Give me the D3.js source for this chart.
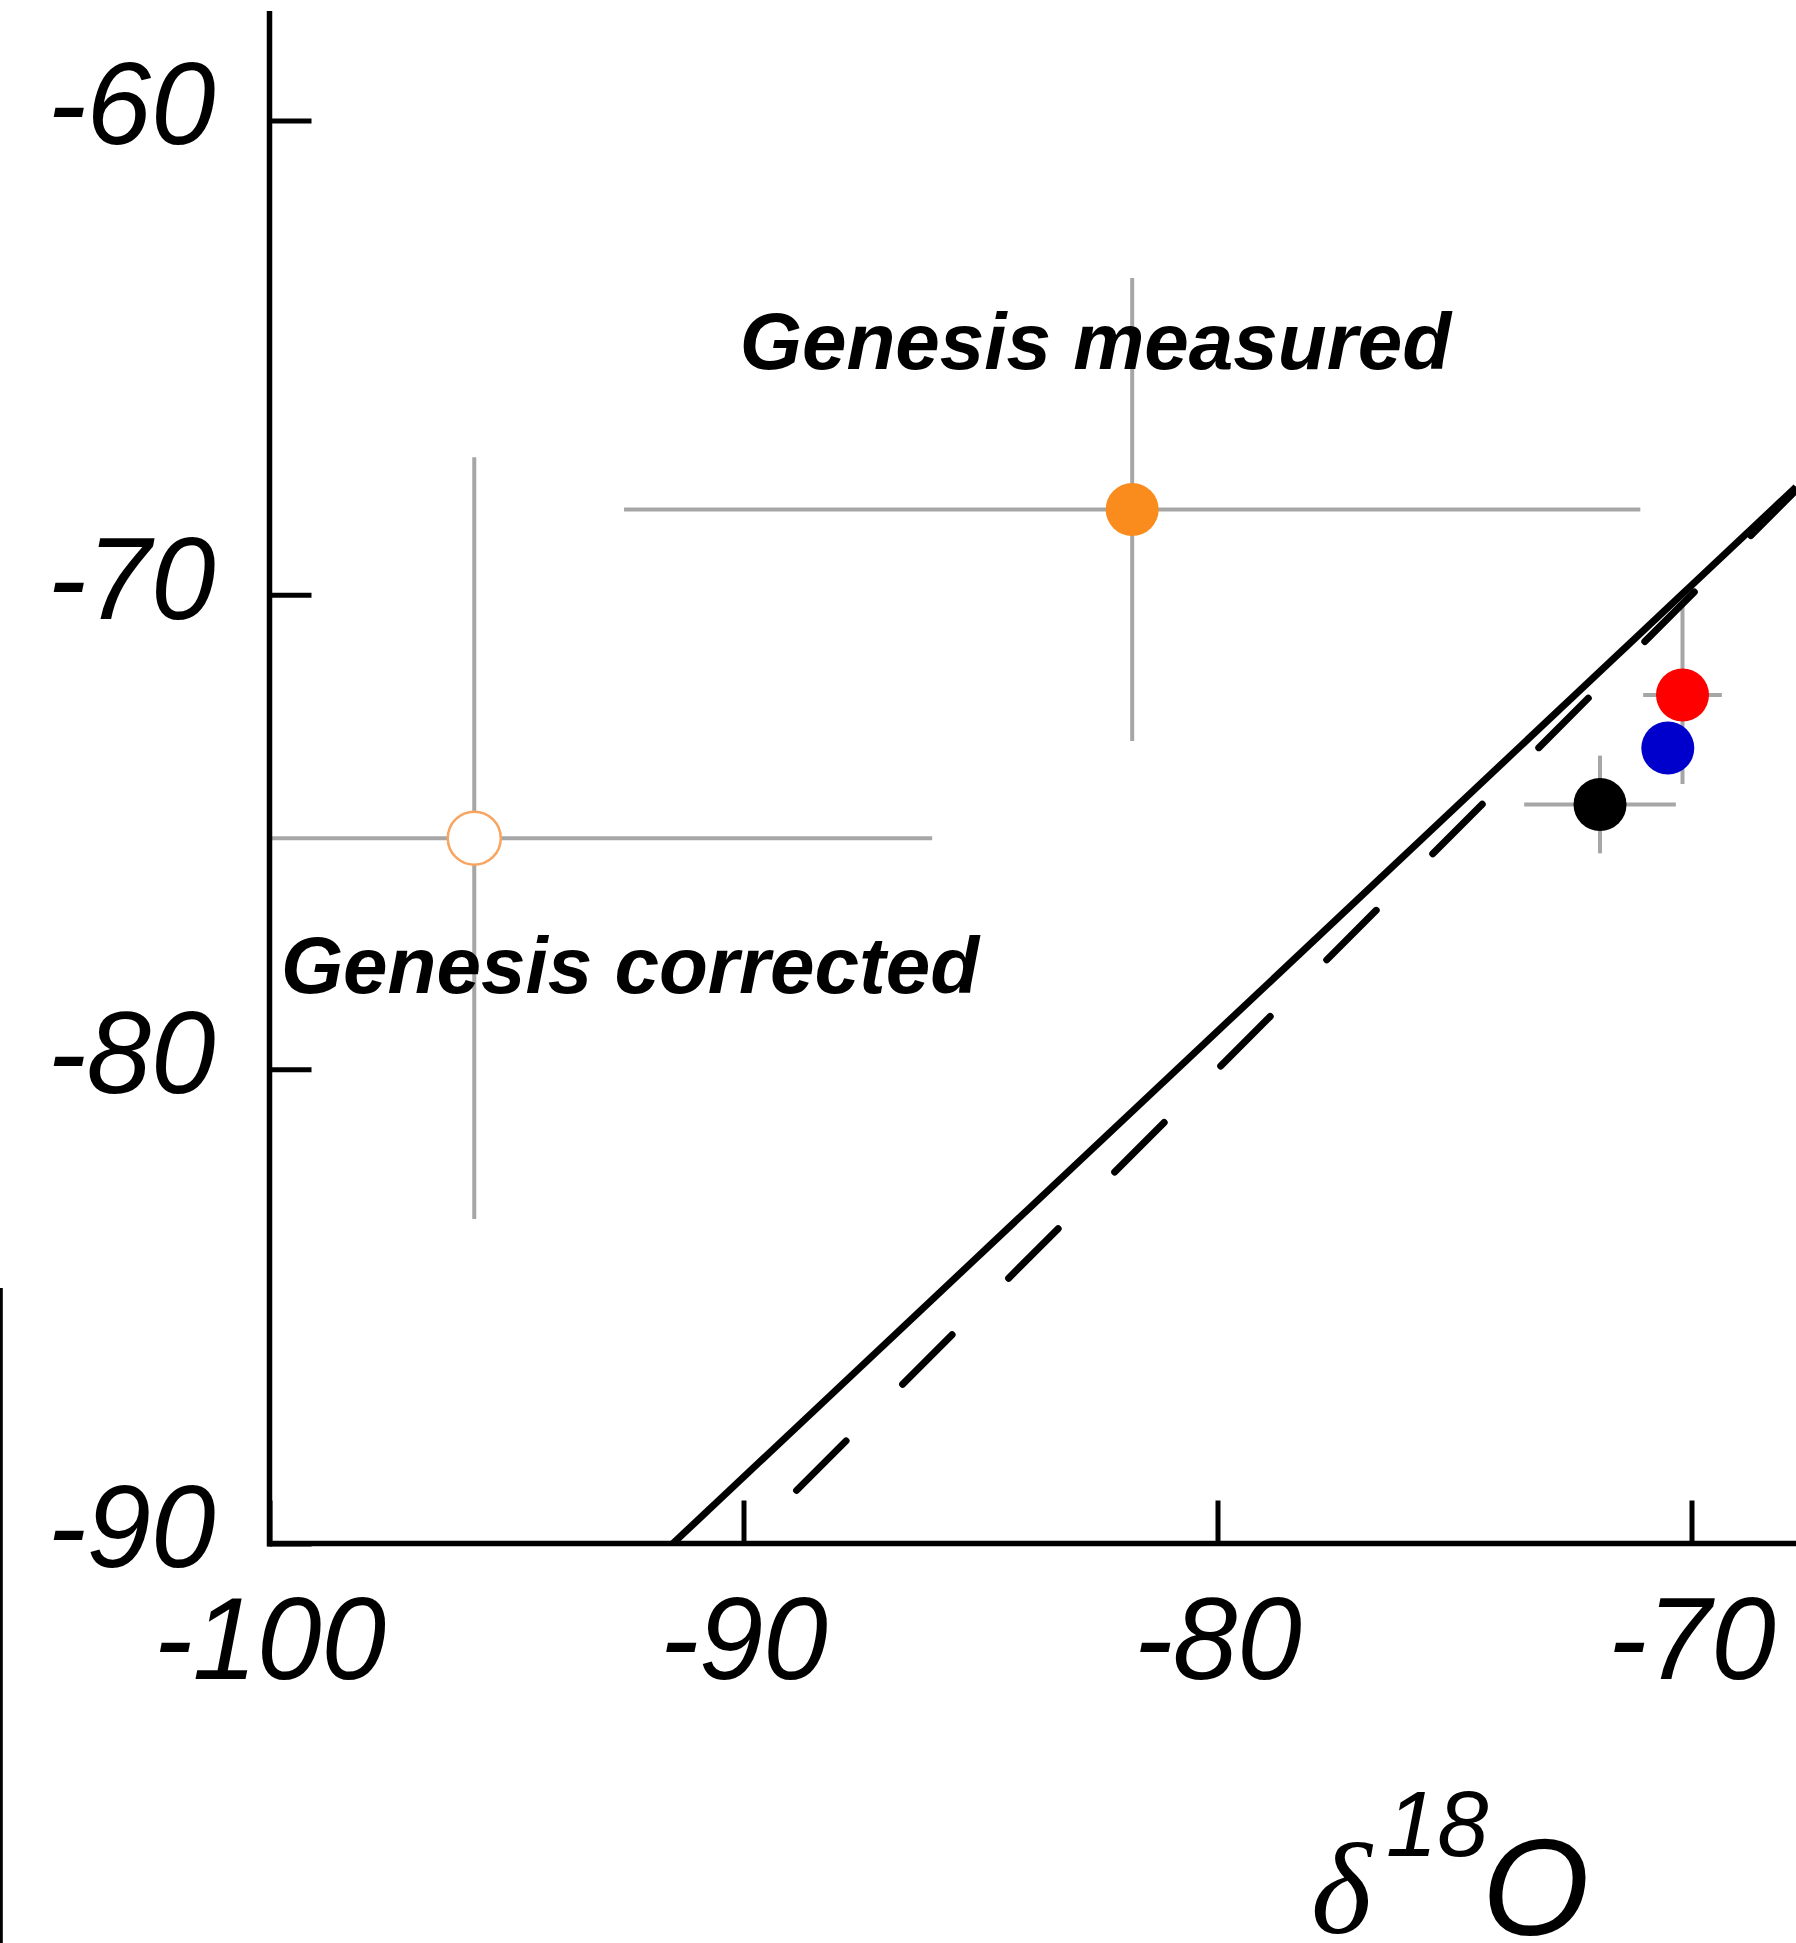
<!DOCTYPE html>
<html>
<head>
<meta charset="utf-8">
<script src="https://cdn.jsdelivr.net/npm/d3@7"></script>
<style>
  html, body { margin: 0; padding: 0; background: #fff; }
  svg { display: block; }
</style>
</head>
<body>
<div id="chart"></div>
<script>
// points: measured / corrected Genesis, then the three small ones near -70
const pointNames = ['Genesis measured', 'Genesis corrected', 'red', 'blue', 'black'];
const pointX = [-81.80, -95.68, -70.19, -70.50, -71.93];
const pointY = [-68.20, -75.13, -72.11, -73.23, -74.42];
const errX = [10.72, 9.66, 0.83, 0, 1.60];
const errY = [4.88, 8.03, 1.88, 0, 1.03];

// reference lines y = slope * x + intercept
const lineSlope = [0.94, 1.0];
const lineIntercept = [-4.0, 0.0];
const lineStartX = [-91.49, -88.88];

const xTicks = [-100, -90, -80, -70];
const yTicks = [-90, -80, -70, -60];

const labelText = ['Genesis measured', 'Genesis corrected'];
const labelX = [-90.08, -99.76];
const labelY = [-65.24, -78.40];

const W = 1796, H = 1943;
const fillColor = ['#fa8c1e', '#ffffff', '#ff0000', '#0000cc', '#000000'];
const strokeColor = ['none', '#f7a560', 'none', 'none', 'none'];
const errColor = '#a6a6a6';
const font = '"Liberation Sans", Arial, Helvetica, sans-serif';

const svg = d3.select('#chart').append('svg')
	.attr('width', W)
	.attr('height', H)
	.style('background', '#fff');

const x = d3.scaleLinear().domain([-100, -70]).range([269.5, 1691.5]);
const y = d3.scaleLinear().domain([-90, -60]).range([1543.5, 120.5]);

// neighbouring panel edge on the far left
svg.append('line')
	.attr('x1', 1.4).attr('x2', 1.4)
	.attr('y1', 1288).attr('y2', H)
	.attr('stroke', '#000').attr('stroke-width', 2.8);

// error bars
const errs = svg.append('g').attr('stroke', errColor).attr('stroke-width', 4);
pointX.forEach((px, i) => {
	if (errX[i] > 0) {
		errs.append('line')
			.attr('x1', x(Math.max(px - errX[i], -100)))
			.attr('x2', x(px + errX[i]))
			.attr('y1', y(pointY[i])).attr('y2', y(pointY[i]));
	}
	if (errY[i] > 0) {
		errs.append('line')
			.attr('x1', x(px)).attr('x2', x(px))
			.attr('y1', y(pointY[i] + errY[i]))
			.attr('y2', y(pointY[i] - errY[i]));
	}
});

// reference lines, running to the right edge
const xRight = x.invert(W);
lineSlope.forEach((s, i) => {
	const x0 = lineStartX[i];
	svg.append('line')
		.attr('x1', x(x0)).attr('y1', y(s * x0 + lineIntercept[i]))
		.attr('x2', x(xRight)).attr('y2', y(s * xRight + lineIntercept[i]))
		.attr('stroke', '#000')
		.attr('stroke-width', 7)
		.attr('stroke-linecap', i == 1 ? 'round' : 'butt')
		.attr('stroke-dasharray', i == 1 ? '70,80' : null);
});

// axes (plain hyphen, not the unicode minus)
const fmt = d => String(d);
const yAxis = d3.axisLeft(y).tickValues(yTicks).tickFormat(fmt).tickSizeInner(-42).tickSizeOuter(0).tickPadding(54);
const xAxis = d3.axisBottom(x).tickValues(xTicks).tickFormat(fmt).tickSizeInner(-43).tickSizeOuter(0).tickPadding(53);

const gy = svg.append('g').attr('transform', `translate(${x(-100)},0)`).call(yAxis);
const gx = svg.append('g').attr('transform', `translate(0,${y(-90)})`).call(xAxis);

[gx, gy].forEach(g => {
	g.select('.domain').remove();
	g.selectAll('.tick line').attr('stroke', '#000').attr('stroke-width', 5);
	g.selectAll('.tick text')
		.attr('fill', '#000')
		.attr('font-family', font)
		.attr('font-style', 'italic')
		.attr('font-size', 116);
});
gy.selectAll('.tick text').attr('dy', '0.2em');
gx.selectAll('.tick text').attr('dy', '0.71em');

svg.append('line')
	.attr('x1', x(-100)).attr('x2', x(-100))
	.attr('y1', 11).attr('y2', y(-90) + 3)
	.attr('stroke', '#000').attr('stroke-width', 5.5);
svg.append('line')
	.attr('x1', x(-100) - 2.5).attr('x2', W)
	.attr('y1', y(-90)).attr('y2', y(-90))
	.attr('stroke', '#000').attr('stroke-width', 5.5);

// points
svg.append('g').selectAll('circle')
	.data(pointNames)
	.join('circle')
	.attr('cx', (d, i) => x(pointX[i]))
	.attr('cy', (d, i) => y(pointY[i]))
	.attr('r', 26.5)
	.attr('fill', (d, i) => fillColor[i])
	.attr('stroke', (d, i) => strokeColor[i])
	.attr('stroke-width', 2.5);

// labels
labelText.forEach((t, i) => {
	svg.append('text')
		.attr('x', x(labelX[i]))
		.attr('y', y(labelY[i]))
		.attr('font-family', font)
		.attr('font-style', 'italic')
		.attr('font-weight', 'bold')
		.attr('font-size', 80)
		.text(t);
});

// axis title: delta 18 O
svg.append('text')
	.attr('x', 1311).attr('y', 1933)
	.attr('font-family', '"Liberation Serif", "Times New Roman", serif')
	.attr('font-style', 'italic')
	.attr('font-size', 130)
	.text('δ');
svg.append('text')
	.attr('x', 1386).attr('y', 1856)
	.attr('font-family', font)
	.attr('font-style', 'italic')
	.attr('font-size', 92)
	.text('18');
svg.append('text')
	.attr('x', 1482).attr('y', 1935)
	.attr('font-family', font)
	.attr('font-style', 'italic')
	.attr('font-size', 138)
	.text('O');
</script>
</body>
</html>
